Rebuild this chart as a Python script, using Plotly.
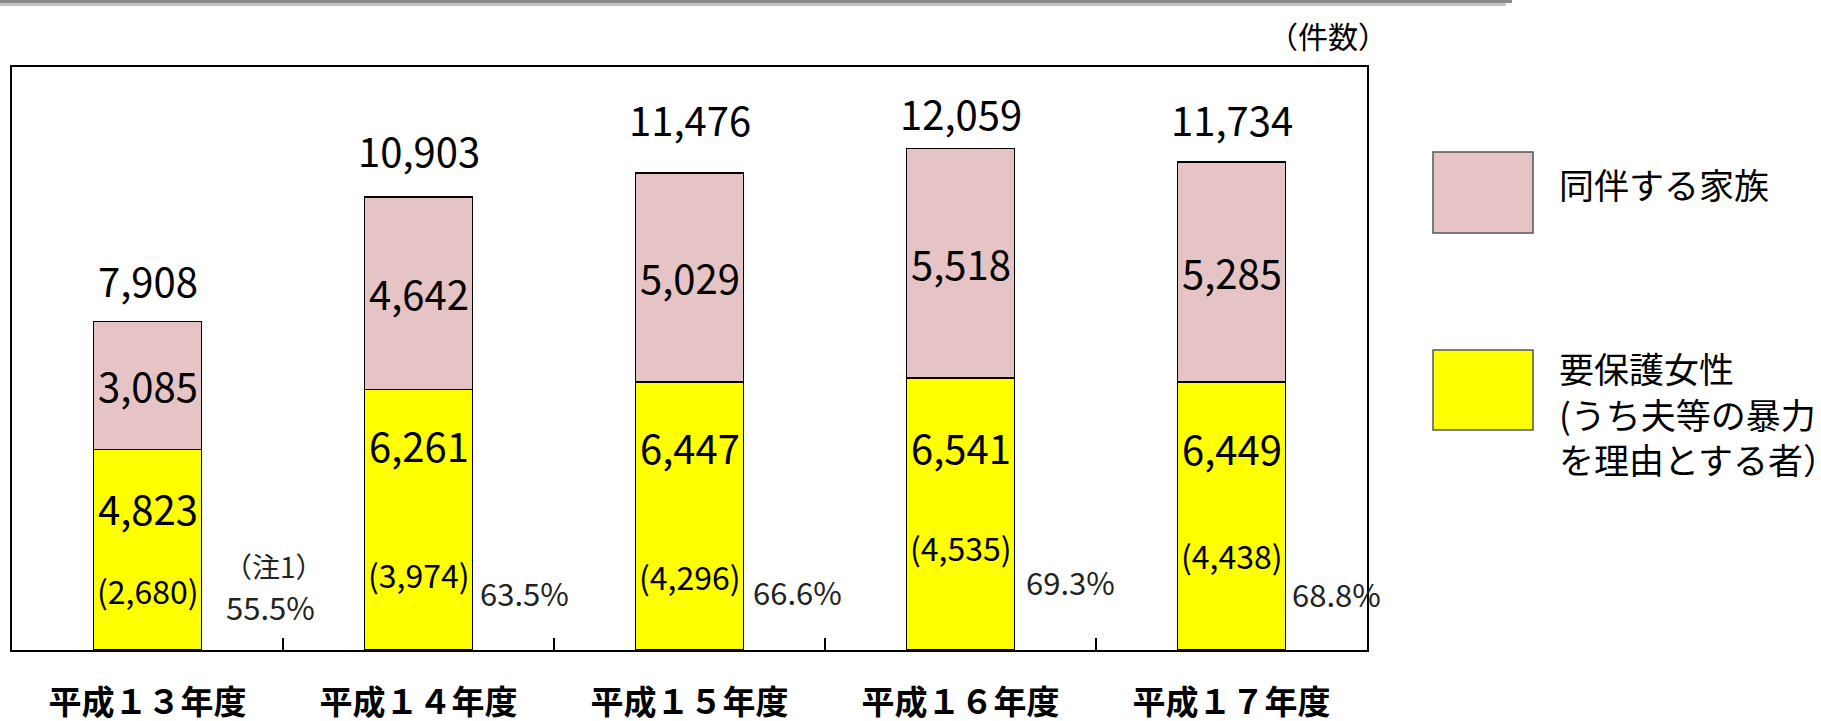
import plotly.graph_objects as go

# ---- data ----
categories = ["平成１３年度", "平成１４年度", "平成１５年度", "平成１６年度", "平成１７年度"]
women = [4823, 6261, 6447, 6541, 6449]          # 要保護女性
family = [3085, 4642, 5029, 5518, 5285]         # 同伴する家族
totals = [7908, 10903, 11476, 12059, 11734]
violence = [2680, 3974, 4296, 4535, 4438]       # うち夫等の暴力を理由とする者
violence_pct = ["55.5%", "63.5%", "66.6%", "69.3%", "68.8%"]
legend_family = "同伴する家族"
legend_women = "要保護女性<br>(うち夫等の暴力<br>を理由とする者）"
unit_label = "（件数）"
note_label = "（注1）"

# ---- layout constants (pixels) ----
W, H = 1821, 721
ML, MR, MT, MB = 12, 454, 67, 71
PW, PH = W - ML - MR, H - MT - MB
FONT = "Noto Sans CJK JP"
PINK = "#E6C3C4"
YELLOW = "#FFFF00"

# label nudges (pixels)
total_dy = [41, 47, 54, 36, 43]
women_dy = [58, 55, 65, 69, 66]
viol_dy = [60, 76, 74, 103, 95]
pct_dy = [44, 58, 59, 69, 57]
pct_dx = [123, 106, 108, 110, 105]


def px(x):
    return (x - ML) / PW


def py(y):
    return (H - MB - y) / PH


fig = go.Figure()
fig.add_trace(go.Bar(x=categories, y=women, name="要保護女性",
                     marker=dict(color=YELLOW, line=dict(color="#000000", width=1.5)),
                     hoverinfo="skip"))
fig.add_trace(go.Bar(x=categories, y=family, name="同伴する家族",
                     marker=dict(color=PINK, line=dict(color="#000000", width=1.5)),
                     hoverinfo="skip"))

ann = []


def add(**kw):
    kw.setdefault("showarrow", False)
    kw.setdefault("xanchor", "center")
    kw.setdefault("yanchor", "middle")
    ann.append(kw)


for i, c in enumerate(categories):
    add(x=c, y=totals[i], text=f"{totals[i]:,}", yshift=total_dy[i],
        font=dict(size=40, family=FONT, color="#000"))
    add(x=c, y=women[i] + family[i] / 2, text=f"{family[i]:,}",
        font=dict(size=40, family=FONT, color="#000"))
    add(x=c, y=women[i], text=f"{women[i]:,}", yshift=-women_dy[i],
        font=dict(size=40, family=FONT, color="#000"))
    add(x=c, y=0, text=f"({violence[i]:,})", yshift=viol_dy[i],
        font=dict(size=32, family=FONT, color="#000"))
    add(x=c, y=0, text=violence_pct[i], yshift=pct_dy[i], xshift=pct_dx[i],
        font=dict(size=31, family=FONT, color="#222"))
add(x=categories[0], y=0, text=note_label, yshift=84, xshift=126,
    font=dict(size=28, family=FONT, color="#222"))

# unit label
add(xref="paper", yref="paper", x=px(1328), y=py(35), text=unit_label,
    font=dict(size=30, family=FONT, color="#000"))
# legend texts
add(xref="paper", yref="paper", x=px(1557), y=py(184), text=legend_family,
    xanchor="left", font=dict(size=35, family=FONT, color="#000"))
add(xref="paper", yref="paper", x=px(1557), y=py(413), text=legend_women,
    xanchor="left", align="left", font=dict(size=35, family=FONT, color="#000"))

shapes = [
    # legend swatches
    dict(type="rect", xref="paper", yref="paper", x0=px(1433), x1=px(1533), y0=py(152), y1=py(233),
         fillcolor=PINK, line=dict(color="#555", width=1.5)),
    dict(type="rect", xref="paper", yref="paper", x0=px(1433), x1=px(1533), y0=py(350), y1=py(430),
         fillcolor=YELLOW, line=dict(color="#555", width=1.5)),
    # top decorative bar
    dict(type="rect", xref="paper", yref="paper", x0=px(0), x1=px(1512), y0=py(0), y1=py(3),
         fillcolor="#8A8A8A", line=dict(width=0)),
    dict(type="rect", xref="paper", yref="paper", x0=px(0), x1=px(1506), y0=py(3), y1=py(6),
         fillcolor="#C4C4C4", line=dict(width=0)),
]

fig.update_layout(
    width=W, height=H,
    margin=dict(l=ML, r=MR, t=MT, b=MB, autoexpand=False),
    barmode="stack", bargap=0.6,
    showlegend=False,
    plot_bgcolor="white", paper_bgcolor="white",
    annotations=ann, shapes=shapes,
    font=dict(family=FONT),
)
fig.update_xaxes(type="category", tickson="boundaries", ticks="inside", ticklen=12,
                 tickwidth=1.5, tickcolor="#000", showline=True, linecolor="#000",
                 linewidth=2, mirror=True, showgrid=False, range=[-0.5, 4.5],
                 tickfont=dict(size=33, family=FONT, color="#000", weight="bold"),
                 ticklabelstandoff=22, automargin=False)
fig.update_yaxes(range=[0, 14025], showline=True, linecolor="#000", linewidth=2,
                 mirror=True, showgrid=False, showticklabels=False, ticks="",
                 zeroline=False, automargin=False)

fig.write_html("out.html")
